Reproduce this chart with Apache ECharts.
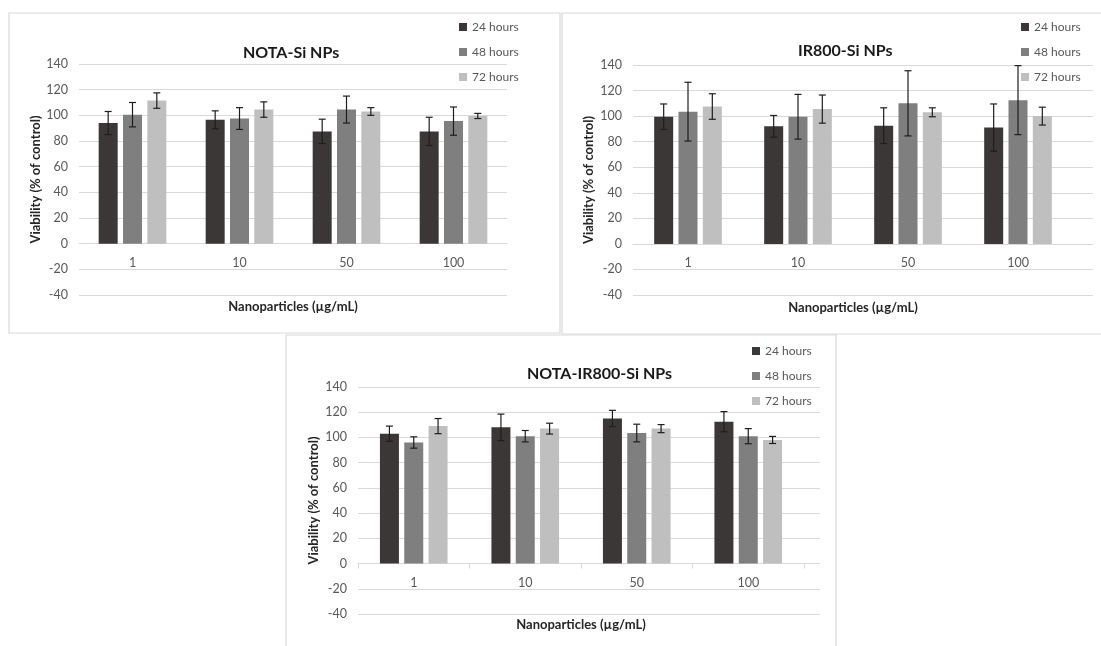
<!DOCTYPE html>
<html><head><meta charset="utf-8">
<script src="https://cdn.jsdelivr.net/npm/echarts@6/dist/echarts.min.js"></script>
<style>html,body{margin:0;padding:0;background:#fff}#c{width:1101px;height:646px}</style>
</head><body><div id="c"></div>
<script>
// ---------- data ----------
const categories = ['1', '10', '50', '100'];
const seriesNames = ['24 hours', '48 hours', '72 hours'];
const panelTitles = ['NOTA-Si NPs', 'IR800-Si NPs', 'NOTA-IR800-Si NPs'];
const xAxisName = 'Nanoparticles (\u00b5g/mL)';
const yAxisName = 'Viability (% of control)';

// NOTA-Si NPs
const notaSi_24 = [94, 96.5, 87.5, 87.5];
const notaSi_24_err = [9, 7, 9.5, 11];
const notaSi_48 = [100.5, 97.5, 104.5, 95.5];
const notaSi_48_err = [9.5, 8.5, 10.5, 11];
const notaSi_72 = [111.5, 104.5, 103, 99.5];
const notaSi_72_err = [6, 6, 3, 2];

// IR800-Si NPs
const ir800_24 = [99.5, 92, 92.5, 91];
const ir800_24_err = [10, 8.5, 14, 18.5];
const ir800_48 = [103.5, 99.5, 110, 112.5];
const ir800_48_err = [23, 17.5, 25.5, 27];
const ir800_72 = [107.5, 105.5, 103, 100];
const ir800_72_err = [10, 11, 3.5, 7];

// NOTA-IR800-Si NPs
const notaIr_24 = [103, 108, 115, 112.5];
const notaIr_24_err = [6, 10.5, 6.5, 8];
const notaIr_48 = [96, 101, 103.5, 101];
const notaIr_48_err = [4.5, 4.5, 7, 6];
const notaIr_72 = [109, 107, 107, 98];
const notaIr_72_err = [6, 4.3, 3.2, 2.8];

const yMin = -40, yMax = 140, yInterval = 20;

// ---------- style / layout ----------
const colors = ['#3b3737', '#7f7f7f', '#bfbfbf'];
const FONT = 'Lato';
const TXT = '#595959';
const GRIDC = '#d9d9d9';
const BAR_W = 19;
const BAR_GAP = 0.28;

const panels = [
  { means: [notaSi_24, notaSi_48, notaSi_72], errs: [notaSi_24_err, notaSi_48_err, notaSi_72_err],
    left: 79, top: 64, height: 231, barWidth: 428, frameWidth: 428,
    titleX: 243, titleY: 51, legendLeft: 459, legendTop: 20, xNameGap: 57, yNameGap: 36, ticks: false,
    rect: { x: 9, y: 13, width: 551, height: 320 } },
  { means: [ir800_24, ir800_48, ir800_72], errs: [ir800_24_err, ir800_48_err, ir800_72_err],
    left: 633, top: 65, height: 230, barWidth: 440, frameWidth: 460,
    titleX: 798, titleY: 49, legendLeft: 1021, legendTop: 20, xNameGap: 57, yNameGap: 38, ticks: false,
    rect: { x: 562, y: 13, width: 600, height: 321 } },
  { means: [notaIr_24, notaIr_48, notaIr_72], errs: [notaIr_24_err, notaIr_48_err, notaIr_72_err],
    left: 358, top: 387, height: 227, barWidth: 446, frameWidth: 462,
    titleX: 527, titleY: 372, legendLeft: 752, legendTop: 344, xNameGap: 55, yNameGap: 38, ticks: true,
    rect: { x: 286, y: 335, width: 550, height: 330 } }
];

function errRender(idx) {
  return function (params, api) {
    const c = api.value(0);
    const lo = api.coord([c, api.value(1)]);
    const hi = api.coord([c, api.value(2)]);
    const x = lo[0] + (idx - 1) * (BAR_W * (1 + BAR_GAP));
    const cap = 3.5;
    const st = { stroke: '#1e1e1e', lineWidth: 1.2 };
    return { type: 'group', children: [
      { type: 'line', shape: { x1: x, y1: hi[1], x2: x, y2: lo[1] }, style: st },
      { type: 'line', shape: { x1: x - cap, y1: hi[1], x2: x + cap, y2: hi[1] }, style: st },
      { type: 'line', shape: { x1: x - cap, y1: lo[1], x2: x + cap, y2: lo[1] }, style: st }
    ] };
  };
}

const grid = [], xAxis = [], yAxis = [], series = [], legend = [], graphic = [];

panels.forEach((p, k) => {
  const gFrame = 2 * k, gBars = 2 * k + 1;
  const barsHeight = p.height * (yMax - 0) / (yMax - yMin);
  graphic.push({ type: 'rect', z: -10, shape: p.rect, style: { fill: '#fff', stroke: GRIDC, lineWidth: 1.2 } });
  graphic.push({ type: 'text', left: p.titleX, top: p.titleY - 6, z: 10,
    style: { text: panelTitles[k], font: 'bold 16px ' + FONT, fill: '#1a1a1a', textAlign: 'center' } });

  grid.push({ left: p.left, top: p.top, width: p.frameWidth, height: p.height, containLabel: false, outerBoundsMode: 'none' });
  grid.push({ left: p.left, top: p.top, width: p.barWidth, height: barsHeight, containLabel: false, outerBoundsMode: 'none' });

  xAxis.push({ gridIndex: gFrame, type: 'value', show: false });
  xAxis.push({ gridIndex: gBars, type: 'category', data: categories, position: 'bottom',
    axisLine: { show: true, onZero: false, lineStyle: { color: GRIDC } },
    axisTick: { show: p.ticks, length: 5, lineStyle: { color: GRIDC } },
    axisLabel: { margin: 13, color: TXT, fontFamily: FONT, fontSize: 12.5 },
    splitLine: { show: false },
    name: xAxisName, nameLocation: 'middle', nameGap: p.xNameGap,
    nameTextStyle: { fontFamily: FONT, fontSize: 13, fontWeight: 'bold', color: '#262626' } });

  yAxis.push({ gridIndex: gFrame, type: 'value', min: yMin, max: yMax, interval: yInterval,
    axisLine: { show: false }, axisTick: { show: false },
    axisLabel: { margin: 11, color: TXT, fontFamily: FONT, fontSize: 12.5 },
    splitLine: { show: true, lineStyle: { color: GRIDC, width: 1 } },
    name: yAxisName, nameLocation: 'middle', nameRotate: 90, nameGap: p.yNameGap,
    nameTextStyle: { fontFamily: FONT, fontSize: 13, fontWeight: 'bold', color: '#262626' } });
  yAxis.push({ gridIndex: gBars, type: 'value', min: 0, max: yMax, interval: yInterval,
    axisLine: { show: false }, axisTick: { show: false }, axisLabel: { show: false },
    splitLine: { show: false } });

  p.means.forEach((m, i) => {
    series.push({ type: 'bar', name: seriesNames[i], xAxisIndex: gBars, yAxisIndex: gBars,
      data: m, barWidth: BAR_W, barGap: (BAR_GAP * 100) + '%', itemStyle: { color: colors[i] },
      silent: true, z: 2 });
  });
  p.means.forEach((m, i) => {
    series.push({ type: 'custom', xAxisIndex: gBars, yAxisIndex: gBars, z: 3, silent: true,
      renderItem: errRender(i),
      data: m.map((v, j) => [j, v - p.errs[i][j], v + p.errs[i][j]]) });
  });

  legend.push({ data: seriesNames, orient: 'vertical', left: p.legendLeft, top: p.legendTop, padding: 0,
    itemWidth: 8, itemHeight: 8, itemGap: 11, icon: 'rect', selectedMode: false,
    textStyle: { color: TXT, fontFamily: FONT, fontSize: 12, lineHeight: 14 } });
});

const chart = echarts.init(document.getElementById('c'));
chart.setOption({ animation: false, backgroundColor: '#fff', color: colors,
  grid, xAxis, yAxis, series, legend, graphic });
</script>
</body></html>
